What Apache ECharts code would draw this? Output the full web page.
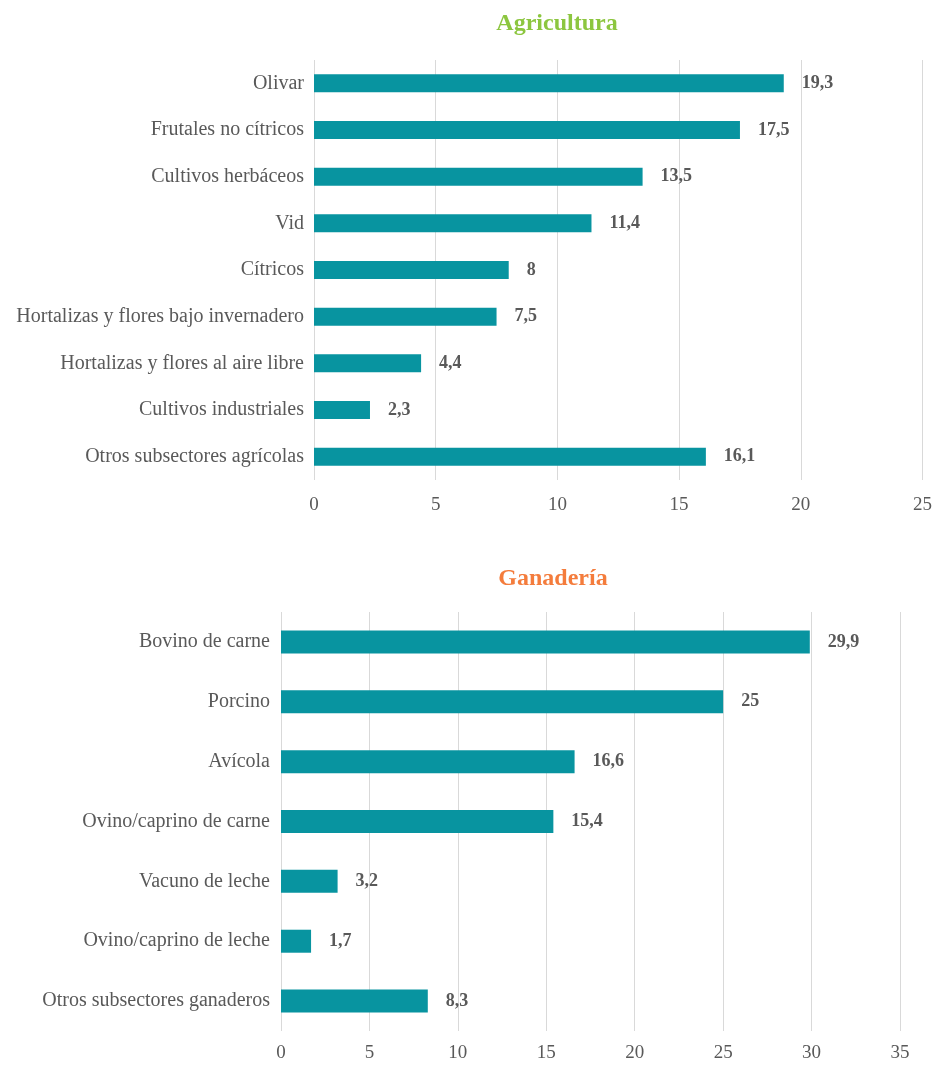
<!DOCTYPE html>
<html>
<head>
<meta charset="utf-8">
<script src="https://cdn.jsdelivr.net/npm/echarts@6/dist/echarts.min.js"></script>
<style>
  html, body { margin: 0; padding: 0; background: #fff; }
  #chart { width: 935px; height: 1066px; }
</style>
</head>
<body>
<div id="chart"></div>
<script>
// datos
const agriCategorias = [
  "Olivar",
  "Frutales no cítricos",
  "Cultivos herbáceos",
  "Vid",
  "Cítricos",
  "Hortalizas y flores bajo invernadero",
  "Hortalizas y flores al aire libre",
  "Cultivos industriales",
  "Otros subsectores agrícolas"
];
const agriValores = [19.3, 17.5, 13.5, 11.4, 8, 7.5, 4.4, 2.3, 16.1];

const ganaCategorias = [
  "Bovino de carne",
  "Porcino",
  "Avícola",
  "Ovino/caprino de carne",
  "Vacuno de leche",
  "Ovino/caprino de leche",
  "Otros subsectores ganaderos"
];
const ganaValores = [29.9, 25, 16.6, 15.4, 3.2, 1.7, 8.3];

const agriMax = 25;
const ganaMax = 35;
const paso = 5;

const fuente = "Liberation Serif";
const gris = "#595959";
const barra = "#0894a0";

const chart = echarts.init(document.getElementById("chart"));

function ejeX(idx, max, margen) {
  return {
    type: "value",
    gridIndex: idx,
    min: 0,
    max: max,
    interval: paso,
    axisLine: { show: false },
    axisTick: { show: false },
    splitLine: { show: true, lineStyle: { color: "#d9d9d9", width: 1 } },
    axisLabel: { color: gris, fontFamily: fuente, fontSize: 19, margin: margen }
  };
}

function ejeY(idx, datos, margen) {
  return {
    type: "category",
    gridIndex: idx,
    inverse: true, // primer elemento arriba
    data: datos,
    axisLine: { show: false },
    axisTick: { show: false },
    axisLabel: { color: gris, fontFamily: fuente, fontSize: 20, margin: margen }
  };
}

function serie(idx, datos, ancho) {
  return {
    type: "bar",
    xAxisIndex: idx,
    yAxisIndex: idx,
    data: datos,
    barWidth: ancho,
    itemStyle: { color: barra },
    label: {
      show: true,
      position: "right",
      distance: 18,
      color: gris,
      fontFamily: fuente,
      fontWeight: "bold",
      fontSize: 18,
      formatter: p => String(p.value).replace(".", ",")
    }
  };
}

chart.setOption({
  animation: false,
  title: [
    {
      text: "Agricultura",
      left: 552,
      top: 7,
      textAlign: "center",
      textStyle: { color: "#8cc63f", fontFamily: fuente, fontWeight: "bold", fontSize: 24 }
    },
    {
      text: "Ganadería",
      left: 548,
      top: 562,
      textAlign: "center",
      textStyle: { color: "#f47c3c", fontFamily: fuente, fontWeight: "bold", fontSize: 24 }
    }
  ],
  grid: [
    { left: 314, right: 10, top: 60, height: 420 },
    { left: 281, right: 35, top: 612, height: 419 }
  ],
  xAxis: [ejeX(0, agriMax, 16), ejeX(1, ganaMax, 13)],
  yAxis: [ejeY(0, agriCategorias, 10), ejeY(1, ganaCategorias, 11)],
  series: [serie(0, agriValores, 18), serie(1, ganaValores, 23)]
});
</script>
</body>
</html>
